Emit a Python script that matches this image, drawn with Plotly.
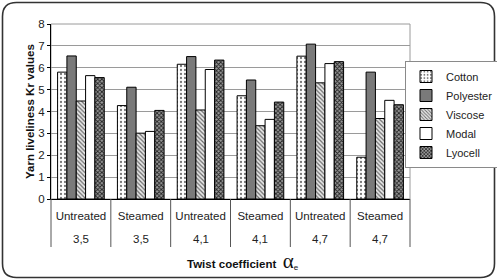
import plotly.graph_objects as go

treatments = ["Untreated", "Steamed", "Untreated", "Steamed", "Untreated", "Steamed"]
twist = ["3,5", "3,5", "4,1", "4,1", "4,7", "4,7"]
categories = [f"{t} {c}" for t, c in zip(treatments, twist)]

cotton = [5.80, 4.27, 6.16, 4.72, 6.53, 1.91]
polyester = [6.54, 5.11, 6.51, 5.44, 7.08, 5.80]
viscose = [4.48, 3.01, 4.07, 3.35, 5.31, 3.68]
modal = [5.64, 3.09, 5.92, 3.64, 6.19, 4.51]
lyocell = [5.55, 4.05, 6.35, 4.43, 6.28, 4.31]

y_ticks = [0, 1, 2, 3, 4, 5, 6, 7, 8]

FONT = "Liberation Sans, Arial, sans-serif"
W, H = 497, 280
L, R, T, B = 51, 87, 24, 81
pw, ph = W - L - R, H - T - B

series = [
    ("Cotton", cotton, dict(color="white", pattern=dict(shape=".", fgcolor="#777777", bgcolor="white", size=4, solidity=0.25, fillmode="replace"))),
    ("Polyester", polyester, dict(color="#7a7a7a")),
    ("Viscose", viscose, dict(color="white", pattern=dict(shape="\\", fgcolor="#6a6a6a", bgcolor="#e8e8e8", size=3, solidity=0.4, fillmode="replace"))),
    ("Modal", modal, dict(color="white")),
    ("Lyocell", lyocell, dict(color="#555555", pattern=dict(shape="x", fgcolor="#222222", bgcolor="#9a9a9a", size=3, solidity=0.5, fillmode="replace"))),
]

fig = go.Figure()
for name, vals, mk in series:
    mk = dict(mk)
    mk["line"] = dict(color="black", width=1)
    fig.add_trace(go.Bar(name=name, x=categories, y=vals, marker=mk))

shapes = []
# plot-area frame (gray)
shapes.append(dict(type="rect", xref="paper", yref="paper", x0=0, x1=1, y0=0, y1=1,
                   line=dict(color="#9a9a9a", width=1), layer="below"))
# category dividers below axis
n = len(categories)
for i in range(n + 1):
    shapes.append(dict(type="line", xref="paper", yref="paper", x0=i / n, x1=i / n,
                       y0=0, y1=-48 / ph, line=dict(color="#555555", width=1)))
# rounded outer border
hw, hh, r = 246, 137.5, 14
path = (f"M {-hw + r},{-hh} L {hw - r},{-hh} Q {hw},{-hh} {hw},{-hh + r} "
        f"L {hw},{hh - r} Q {hw},{hh} {hw - r},{hh} L {-hw + r},{hh} "
        f"Q {-hw},{hh} {-hw},{hh - r} L {-hw},{-hh + r} Q {-hw},{-hh} {-hw + r},{-hh} Z")
shapes.append(dict(type="path", xref="paper", yref="paper", xsizemode="pixel", ysizemode="pixel",
                   xanchor=(W / 2 - L) / pw, yanchor=(H / 2 - B) / ph, path=path,
                   line=dict(color="#333333", width=1.6)))

annotations = []
for cat, tw in zip(categories, twist):
    annotations.append(dict(x=cat, xref="x", y=(199 - 239) / ph, yref="paper", text=tw,
                            showarrow=False, font=dict(family=FONT, size=11.5, color="#222"),
                            yanchor="middle"))
annotations.append(dict(x=(22 - L) / pw, y=(199 - 112) / ph, xref="paper", yref="paper",
                        text="<b>Yarn liveliness Kr values</b>", textangle=-90, showarrow=False,
                        font=dict(family=FONT, size=11.5, color="#111")))
annotations.append(dict(x=(185 - L) / pw, y=(199 - 261) / ph, xref="paper", yref="paper",
                        xanchor="left", yanchor="middle", showarrow=False,
                        text="<b>Twist coefficient</b>  <span style='font-family:Liberation Serif;font-size:21px'>α</span><sub>e</sub>",
                        font=dict(family=FONT, size=11.5, color="#111")))

fig.update_layout(
    width=W, height=H,
    margin=dict(l=L, r=R, t=T, b=B, autoexpand=False),
    paper_bgcolor="white", plot_bgcolor="white",
    barmode="group", bargap=0.22, bargroupgap=0,
    font=dict(family=FONT, size=11.5, color="#222"),
    showlegend=True,
    legend=dict(xref="container", yref="container", x=405 / W, y=1 - 61 / H,
                xanchor="left", yanchor="top",
                bordercolor="#8a8a8a", borderwidth=1, bgcolor="white",
                font=dict(family=FONT, size=11, color="#222"),
                itemwidth=30, tracegroupgap=0),
    shapes=shapes, annotations=annotations,
)
fig.update_xaxes(type="category", tickvals=categories, ticktext=treatments,
                 showline=True, linecolor="black", linewidth=1, ticks="",
                 ticklabelstandoff=6, showgrid=False,
                 tickfont=dict(family=FONT, size=11.5, color="#222"))
fig.update_yaxes(range=[0, 8], tickvals=y_ticks, showgrid=True, gridcolor="#9a9a9a", gridwidth=1,
                 showline=True, linecolor="black", linewidth=1, ticks="outside", ticklen=3,
                 tickcolor="black", zeroline=False,
                 tickfont=dict(family=FONT, size=11.5, color="#222"))

fig.write_html("out.html")
